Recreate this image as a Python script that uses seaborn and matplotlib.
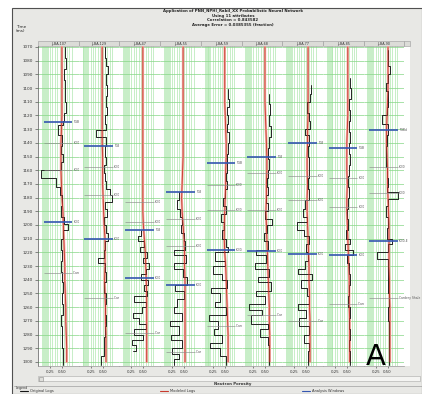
import numpy as np
import matplotlib
matplotlib.use("Agg")
import matplotlib.pyplot as plt
from matplotlib.patches import Rectangle
from matplotlib.lines import Line2D
import seaborn as sns

# === Data
wells = ["JLBA-107", "JLBA-129", "JLBA-47", "JLBA-55", "JLBA-59",
         "JLBA-68", "JLBA-77", "JLBA-85", "JLBA-90"]

time_ticks = list(range(1070, 1301, 10))
model_time = [1070, 1080, 1090, 1100, 1110, 1120, 1130, 1140, 1150, 1160, 1170, 1180,
              1190, 1200, 1210, 1220, 1230, 1240, 1250, 1260, 1270, 1280, 1290, 1300]

# original logs: time where each step starts, value held until next time
d1 = [1070, 1078, 1086, 1094, 1102, 1110, 1118, 1124, 1127, 1134, 1142, 1148, 1154, 1160, 1166, 1172, 1178,
      1186, 1194, 1199, 1204, 1210, 1218, 1226, 1234, 1242, 1250, 1258, 1266, 1274, 1282, 1290, 1296, 1302]
v1 = [.56, .58, .55, .57, .56, .58, .55, .52, .42, .50, .47, .52, .48, .06, .38, .45, .50,
      .47, .55, .62, .52, .49, .50, .48, .51, .53, .50, .52, .49, .51, .50, .52, .53, .53]
d2 = [1070, 1078, 1084, 1090, 1098, 1106, 1114, 1120, 1126, 1131, 1136, 1142, 1150, 1156, 1162, 1168, 1174,
      1178, 1183, 1188, 1194, 1200, 1206, 1212, 1218, 1224, 1228, 1234, 1242, 1250, 1258, 1266, 1274, 1282,
      1290, 1296, 1302]
v2 = [.55, .58, .62, .57, .60, .56, .59, .55, .57, .37, .56, .54, .57, .52, .55, .58, .66,
      .70, .55, .60, .52, .58, .62, .55, .53, .40, .55, .57, .52, .56, .54, .57, .55, .53,
      .52, .46, .46]
d3 = [1204, 1208, 1212, 1216, 1220, 1224, 1228, 1232, 1236, 1240, 1244, 1248, 1252, 1256, 1260, 1264,
      1268, 1272, 1276, 1280, 1284, 1288, 1292]
v3 = [.45, .38, .52, .44, .58, .50, .62, .55, .45, .60, .52, .58, .30, .55, .48, .28,
      .40, .56, .30, .50, .26, .34, .28]
d4 = [1176, 1182, 1188, 1194, 1200, 1206, 1212, 1218, 1222, 1228, 1232, 1238, 1244, 1248, 1254, 1260,
      1264, 1270, 1274, 1280, 1284, 1290, 1294, 1298, 1302]
v4 = [.40, .36, .42, .46, .44, .50, .52, .30, .55, .28, .48, .56, .32, .50, .36, .30,
      .45, .20, .40, .22, .46, .25, .40, .30, .30]
d5 = [1101, 1108, 1114, 1120, 1126, 1132, 1140, 1148, 1156, 1162, 1168, 1174, 1180, 1186, 1192, 1198,
      1204, 1210, 1216, 1220, 1226, 1230, 1236, 1240, 1246, 1250, 1256, 1260, 1266, 1270, 1276, 1280,
      1286, 1290, 1296, 1302]
v5 = [.56, .58, .54, .57, .55, .58, .56, .54, .55, .52, .55, .50, .46, .52, .42, .48,
      .44, .52, .56, .30, .50, .26, .44, .55, .22, .40, .30, .52, .18, .35, .28, .45,
      .20, .40, .52, .52]
d6 = [1104, 1112, 1120, 1128, 1136, 1144, 1152, 1160, 1166, 1172, 1178, 1184, 1190, 1196, 1200, 1206,
      1212, 1218, 1222, 1228, 1232, 1238, 1242, 1248, 1252, 1258, 1262, 1266, 1272, 1276, 1282, 1288,
      1294, 1302]
v6 = [.58, .60, .57, .61, .58, .55, .58, .56, .53, .56, .52, .55, .50, .64, .54, .48,
      .56, .30, .52, .28, .58, .35, .62, .30, .50, .16, .42, .20, .55, .38, .56, .58,
      .57, .57]
d7 = [1098, 1104, 1110, 1118, 1124, 1130, 1134, 1142, 1150, 1158, 1166, 1174, 1182, 1188, 1194, 1198,
      1204, 1208, 1214, 1220, 1226, 1232, 1236, 1240, 1246, 1252, 1258, 1262, 1268, 1274, 1280, 1286,
      1292, 1302]
v7 = [.60, .58, .52, .56, .58, .47, .56, .54, .57, .55, .53, .56, .47, .44, .52, .30,
      .46, .55, .50, .53, .48, .34, .62, .40, .52, .56, .32, .50, .36, .55, .46, .56,
      .54, .54]
d8 = [1093, 1100, 1108, 1116, 1124, 1132, 1140, 1148, 1156, 1164, 1172, 1180, 1188, 1196, 1204, 1210,
      1214, 1218, 1222, 1228, 1236, 1244, 1252, 1260, 1268, 1276, 1284, 1292, 1302]
v8 = [.56, .58, .55, .57, .54, .56, .55, .57, .54, .52, .55, .53, .50, .52, .48, .56,
      .46, .62, .50, .55, .57, .55, .53, .56, .54, .57, .55, .56, .56]
d9 = [1072, 1078, 1084, 1090, 1096, 1102, 1108, 1114, 1120, 1126, 1134, 1142, 1150, 1158, 1166, 1172,
      1176, 1181, 1186, 1194, 1202, 1210, 1214, 1220, 1225, 1232, 1240, 1250, 1260, 1270, 1280, 1290, 1302]
v9 = [.50, .52, .56, .50, .46, .50, .52, .48, .38, .50, .48, .47, .46, .48, .50, .49,
      .72, .52, .47, .50, .48, .60, .50, .28, .52, .50, .51, .53, .52, .54, .53, .54, .54]

# modeled logs on model_time
m1 = [.50, .50, .50, .50, .50, .50, .49, .48, .48, .48, .49, .50, .52, .53, .54, .55, .56, .56, .57, .58, .58, .59, .60, .60]
m2 = [.49, .49, .49, .49, .49, .49, .49, .49, .50, .50, .50, .51, .52, .53, .55, .55, .55, .54, .55, .56, .56, .57, .57, .57]
m3 = [.49, .49, .49, .49, .49, .49, .49, .49, .49, .49, .49, .49, .49, .50, .52, .54, .55, .56, .57, .57, .57, .57, .57, .57]
m4 = [.48, .48, .48, .48, .48, .48, .48, .48, .48, .47, .46, .45, .46, .48, .50, .51, .51, .52, .52, .52, .52, .52, .52, .52]
m5 = [.50, .50, .50, .50, .50, .51, .52, .53, .53, .52, .52, .51, .50, .49, .49, .50, .52, .53, .54, .55, .56, .57, .57, .57]
m6 = [.49, .49, .49, .49, .49, .50, .51, .52, .53, .53, .52, .52, .51, .52, .53, .54, .55, .56, .57, .58, .58, .59, .59, .59]
m7 = [.54, .54, .54, .54, .54, .54, .53, .53, .52, .52, .53, .52, .52, .53, .54, .55, .56, .56, .57, .57, .58, .58, .58, .58]
m8 = [.52, .52, .52, .52, .52, .52, .51, .50, .50, .50, .51, .50, .50, .51, .52, .53, .54, .55, .55, .55, .56, .56, .56, .56]
m9 = [.51, .51, .51, .51, .50, .49, .48, .48, .49, .50, .50, .51, .52, .53, .53, .53, .53, .54, .54, .55, .55, .55, .55, .55]

orig_t = [d1, d2, d3, d4, d5, d6, d7, d8, d9]
orig_v = [v1, v2, v3, v4, v5, v6, v7, v8, v9]
model_v = [m1, m2, m3, m4, m5, m6, m7, m8, m9]

# analysis windows and horizons
window_top = [1125, 1142, 1204, 1176, 1155, 1150, 1140, 1144, 1131]
window_base = [1198, 1210, 1239, 1244, 1218, 1219, 1221, 1222, 1212]
k30_upper = [1140, 1158, 1183, 1196, 1171, 1162, 1164, 1166, 1158]
k30_lower = [1160, 1178, 1198, 1215, 1189, 1189, 1182, 1187, 1177]
cardery = [1235, 1253, 1279, 1293, 1274, 1266, 1270, 1258, 1253]

title_lines = ["Application of PNN_NPHI_Rabil_XX Probabilistic Neural Network",
               "Using 11 attributes",
               "Correlation = 0.843582",
               "Average Error = 0.0385355 (fraction)"]

# === Styling
sns.set_theme(style="white")
plt.rcParams['font.family'] = ['DejaVu Sans']

W, H = 422, 394
fig = plt.figure(figsize=(W / 100, H / 100), dpi=100)
fig.patch.set_facecolor('white')


def fx(px):
    return px / W


def fy(py):
    return 1 - py / H


panel = '#e8e8e5'
fig.add_artist(Rectangle((fx(12), 0), 1 - fx(12), fy(8), transform=fig.transFigure,
                         facecolor=panel, edgecolor='#505050', lw=0.8, zorder=0))
# white plotting area background (incl. strip right of last track)
fig.add_artist(Rectangle((fx(38), fy(366)), fx(410) - fx(38), fy(46) - fy(366),
                         transform=fig.transFigure, facecolor='white', edgecolor='none', zorder=0))

left_px, right_px, top_px, bot_px = 38, 404.3, 46, 366
gs = fig.add_gridspec(1, 9, left=fx(left_px), right=fx(right_px), top=fy(top_px),
                      bottom=fy(bot_px), wspace=0)
axes = gs.subplots(sharey=True)

grid_x = [0.08, 0.10, 0.12, 0.14, 0.16, 0.18, 0.20, 0.25, 0.30, 0.35, 0.40, 0.45, 0.50, 0.55, 0.60, 0.65, 0.70]
hdr_h = 5 / (bot_px - top_px)

for i, ax in enumerate(axes):
    ax.set_facecolor('white')
    ax.set_xlim(0, 0.85)
    ax.set_ylim(1303, 1069.3)
    for gx in grid_x:
        ax.axvline(gx, color='#b0e8b0', lw=0.5, zorder=1)
    for t in time_ticks:
        ax.axhline(t, color='#86d686', lw=0.5, zorder=1)

    # modeled log (pale halo + red line)
    sns.lineplot(x=model_v[i], y=model_time, ax=ax, sort=False, estimator=None,
                 color='#f2b0a8', lw=1.8, zorder=2)
    # original log
    sns.lineplot(x=orig_v[i], y=orig_t[i], ax=ax, sort=False, estimator=None,
                 color='#151515', lw=0.65, drawstyle='steps-pre', zorder=3)
    sns.lineplot(x=model_v[i], y=model_time, ax=ax, sort=False, estimator=None,
                 color='#c83a2e', lw=0.65, zorder=4)

    # horizons
    for t, lab in [(k30_upper[i], "K-30"), (k30_lower[i], "K-30"), (cardery[i], "Cardery Shale")]:
        ax.hlines(t, 0.12, 0.72, color='#8c8c8c', lw=0.45, zorder=5)
        ax.text(0.74, t, lab, fontsize=2.2, color='#555555', va='center', ha='left', clip_on=False, zorder=6)
    # analysis windows
    for t, lab in [(window_top[i], "TGBd"), (window_base[i], "K-30-E")]:
        ax.hlines(t, 0.12, 0.72, color='#3556b0', lw=1.2, zorder=5)
        ax.text(0.74, t, lab, fontsize=2.2, color='#555555', va='center', ha='left', clip_on=False, zorder=6)

    # header box
    ax.add_patch(Rectangle((0, 1), 1, hdr_h, transform=ax.transAxes, clip_on=False,
                           facecolor='#dcdcd8', edgecolor='#9a9a9a', lw=0.4))
    ax.text(0.5, 1 + hdr_h / 2, wells[i], transform=ax.transAxes, fontsize=2.4,
            ha='center', va='center', color='#333333')

    ax.set_xlabel('')
    ax.set_ylabel('')
    ax.set_xticks([0.25, 0.5])
    ax.set_xticklabels(['0.25', '0.50'])
    ax.tick_params(axis='x', labelsize=2.8, length=1.5, width=0.4, pad=1.5, colors='#333333', bottom=True)
    for s in ['top', 'right']:
        ax.spines[s].set_visible(False)
    ax.spines['left'].set_visible(i == 0)
    ax.spines['left'].set_color('#555555')
    ax.spines['left'].set_linewidth(0.5)
    ax.spines['bottom'].set_color('#9a9a9a')
    ax.spines['bottom'].set_linewidth(0.5)
    if i == 0:
        ax.set_yticks(time_ticks)
        ax.tick_params(axis='y', labelsize=3, length=2, width=0.4, pad=1.5, colors='#333333', left=True)
    else:
        ax.tick_params(axis='y', left=False)

# partial empty header at right
fig.add_artist(Rectangle((fx(right_px), fy(46)), fx(410) - fx(right_px), 5 / H,
                         transform=fig.transFigure, facecolor='#dcdcd8', edgecolor='#9a9a9a', lw=0.4))

fig.text(fx(233), fy(18), "\n".join(title_lines), fontsize=2.8, ha='center', va='center',
         weight='bold', linespacing=1.15, color='#222222')
fig.text(fx(16), fy(29), "Time\n(ms)", fontsize=3, ha='left', va='center', color='#222222')

# scrollbar + axis title
fig.add_artist(Rectangle((fx(38), fy(381)), fx(420) - fx(38), 5 / H, transform=fig.transFigure,
                         facecolor='#f4f4f2', edgecolor='#a8a8a8', lw=0.4))
fig.add_artist(Rectangle((fx(39), fy(380.5)), 4 / W, 4 / H, transform=fig.transFigure,
                         facecolor='#e0e0dc', edgecolor='#8a8a8a', lw=0.4))
fig.text(fx(233), fy(383.5), "Neutron Porosity", fontsize=2.8, ha='center', va='center',
         weight='bold', color='#333333')

# legend strip
fig.add_artist(Line2D([fx(14), 1], [fy(386), fy(386)], transform=fig.transFigure, color='#a0a0a0', lw=0.5))
fig.text(fx(16), fy(387.5), "Legend", fontsize=2.4, ha='left', va='center', color='#333333')
for x0, col, lab in [(20, '#151515', "Original Logs"), (160, '#c83a2e', "Modeled Logs"),
                     (302, '#3556b0', "Analysis Windows")]:
    fig.add_artist(Line2D([fx(x0), fx(x0 + 8)], [fy(391), fy(391)], transform=fig.transFigure,
                          color=col, lw=0.8))
    fig.text(fx(x0 + 10), fy(391), lab, fontsize=2.6, ha='left', va='center', color='#333333')

fig.text(fx(376), fy(357), "A", fontsize=21, ha='center', va='center', color='black')

fig.savefig("out.png", dpi=100)
